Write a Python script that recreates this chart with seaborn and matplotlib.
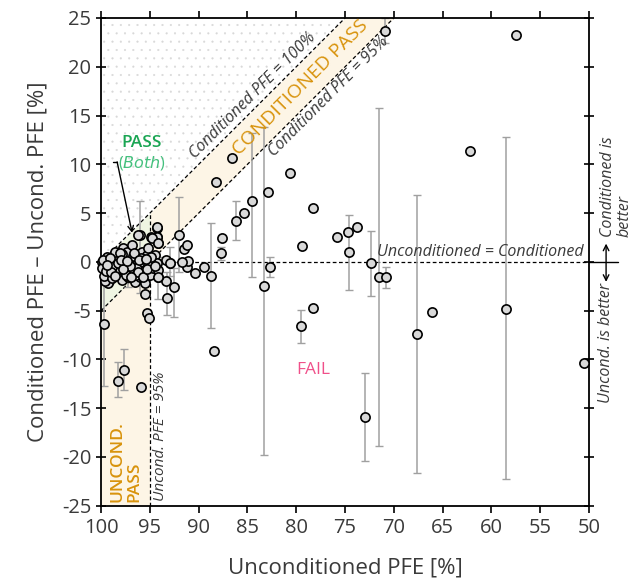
import numpy as np
import pandas as pd
import matplotlib
matplotlib.use("Agg")
import matplotlib.pyplot as plt
import seaborn as sns

# ---------------- data ----------------
# outlying / labelled points: unconditioned PFE [%], difference [%], error-bar low/high (nan = none)
uncond = [70.9, 57.5, 62.2, 86.6, 88.2, 80.6, 82.9, 84.5, 78.3, 86.2,
          85.4, 87.6, 87.7, 88.7, 92.0, 91.5, 91.2, 75.8, 74.7, 73.8,
          74.6, 72.3, 71.5, 70.8, 79.4, 58.5, 67.6, 66.1, 50.5, 73.0,
          78.3, 79.5, 88.4, 82.7, 83.3, 89.5, 90.4, 91.2, 91.1, 91.7,
          92.5, 93.2, 92.9, 93.3, 94.2, 94.3, 94.3, 94.2, 94.9, 96.0,
          95.5, 95.3, 95.1, 99.7, 97.7, 98.3, 95.9, 93.4, 99.2]
diff = [23.7, 23.3, 11.4, 10.6, 8.2, 9.1, 7.2, 6.2, 5.5, 4.2,
        5.0, 2.4, 0.9, -1.4, 2.8, 1.3, 1.7, 2.6, 3.1, 3.6,
        1.0, -0.1, -1.5, -1.5, 1.6, -4.8, -7.4, -5.1, -10.4, -15.9,
        -4.7, -6.6, -9.1, -0.5, -2.5, -0.5, -1.1, -0.5, 0.1, 0.0,
        -2.6, -3.7, -0.1, -2.0, -1.6, 3.5, 2.5, 1.9, 2.5, 2.8,
        -3.3, -5.2, -5.8, -6.4, -11.1, -12.2, -12.8, 0.2, -2.0]
err_lo = [22.4, np.nan, np.nan, np.nan, np.nan, np.nan, np.nan, -1.5, np.nan, 2.2,
          np.nan, np.nan, 0.2, -6.8, -1.0, np.nan, np.nan, np.nan, np.nan, np.nan,
          -2.9, -3.5, -18.9, -2.7, np.nan, -22.3, -21.6, np.nan, np.nan, -20.4,
          np.nan, -8.3, -9.4, -1.5, -19.8, np.nan, np.nan, np.nan, np.nan, np.nan,
          -5.6, -5.4, np.nan, np.nan, np.nan, np.nan, np.nan, np.nan, np.nan, 1.0,
          np.nan, np.nan, np.nan, -12.7, -13.1, -13.9, np.nan, np.nan, np.nan]
err_hi = [25.0, np.nan, np.nan, np.nan, np.nan, np.nan, np.nan, 13.2, np.nan, 6.2,
          np.nan, np.nan, 1.5, 4.0, 6.6, np.nan, np.nan, np.nan, np.nan, np.nan,
          4.8, 3.2, 15.8, -0.5, np.nan, 12.8, 6.9, np.nan, np.nan, -11.4,
          np.nan, -4.9, -8.8, 0.5, 13.8, np.nan, np.nan, np.nan, np.nan, np.nan,
          -0.6, -1.0, np.nan, np.nan, np.nan, np.nan, np.nan, np.nan, np.nan, 6.2,
          np.nan, np.nan, np.nan, -0.5, -8.9, -10.3, np.nan, np.nan, np.nan]

# dense cluster near 100 %
cluster_uncond = [99.93, 99.93, 99.42, 99.25, 99.08, 99.25, 98.74, 98.74, 98.39, 98.22,
                  98.05, 97.88, 97.71, 97.54, 97.37, 97.20, 97.03, 96.86, 96.69, 96.52,
                  96.35, 96.18, 96.00, 95.83, 95.66, 95.49, 95.49, 95.32, 95.15, 94.98,
                  94.81, 94.64, 94.47, 94.30, 94.13, 94.13, 94.30, 94.81, 94.13, 96.18,
                  94.30, 92.93, 99.60, 99.70, 99.85, 98.90, 98.56, 99.08, 97.37, 96.86,
                  97.90, 96.70, 95.90, 95.20, 98.40, 97.60, 96.40, 95.00, 98.90, 97.10,
                  99.50, 99.00, 98.60, 98.10, 97.50, 97.00, 96.60, 96.20, 95.70, 95.30,
                  94.90, 94.50, 98.30, 97.80, 96.90, 96.10, 95.40, 99.40, 98.00, 97.30]
cluster_diff = [0.03, -0.65, 0.55, -0.31, -1.33, -2.19, 0.03, -0.82, 0.55, -0.31,
                -1.16, -1.84, 1.40, 0.38, -0.65, -1.50, 0.89, 0.03, -0.99, -2.02,
                0.55, -0.48, -1.50, 1.06, 0.03, -0.82, -2.19, 0.72, -0.31, -1.33,
                0.21, -0.65, 0.72, -0.14, -0.82, -1.50, 2.60, 2.40, 1.90, 2.77,
                3.60, -0.14, -2.00, -1.40, 0.20, -1.70, 1.06, 0.38, 1.06, 1.74,
                0.80, 0.60, 0.40, 1.40, -0.80, -1.00, -1.30, 0.10, -0.50, -0.20,
                -0.90, -1.00, -1.40, 0.90, -1.30, -0.40, 0.90, -1.00, -1.60, -0.70,
                0.50, -0.40, -0.10, -0.70, -1.60, 0.20, 0.30, -0.30, 0.20, 0.10]
cluster_err_lo = [np.nan] * 10 + [-2.0, np.nan, np.nan, np.nan, np.nan, -2.6, np.nan, -0.8, np.nan, np.nan,
                  np.nan, np.nan, -3.2, np.nan, np.nan, np.nan, -3.6, np.nan, np.nan, np.nan,
                  np.nan, np.nan, np.nan, np.nan, np.nan, -3.8, np.nan, np.nan, np.nan, np.nan,
                  np.nan, -1.4] + [np.nan] * 38
cluster_err_hi = [np.nan] * 10 + [1.5, np.nan, np.nan, np.nan, np.nan, -0.4, np.nan, 1.9, np.nan, np.nan,
                  np.nan, np.nan, 0.2, np.nan, np.nan, np.nan, -1.0, np.nan, np.nan, np.nan,
                  np.nan, np.nan, np.nan, np.nan, np.nan, 0.5, np.nan, np.nan, np.nan, np.nan,
                  np.nan, 1.5] + [np.nan] * 38

x_ticks = [100, 95, 90, 85, 80, 75, 70, 65, 60, 55, 50]
y_ticks = [-25, -20, -15, -10, -5, 0, 5, 10, 15, 20, 25]
pass_threshold = 95
perfect = 100

df = pd.DataFrame({
    "uncond": uncond + cluster_uncond,
    "diff": diff + cluster_diff,
    "lo": err_lo + cluster_err_lo,
    "hi": err_hi + cluster_err_hi,
})

# ---------------- style ----------------
sns.set_style("ticks")
plt.rcParams["font.family"] = ["Open Sans", "DejaVu Sans"]
plt.rcParams["hatch.linewidth"] = 0.3
TXT = "#3a3a3a"
ORANGE = "#d8930c"
CREAM = "#fdf5e6"
GREEN_FILL = "#eff5e2"

fig = plt.figure(figsize=(6.32, 5.8), dpi=100)
ax = fig.add_axes([0.160, 0.128, 0.772, 0.841])
ax.set_xlim(100, 50)
ax.set_ylim(-25, 25)

# ---------------- regions ----------------
xs = np.linspace(50, 100, 501)
# impossible region (conditioned PFE > 100 %)
ax.fill_between(xs, perfect - xs, 30, where=(xs >= 74), facecolor="none",
                edgecolor="#d8d8d8", hatch="..", linewidth=0, zorder=0)
# conditioned pass band
xb = xs[xs <= pass_threshold]
ax.fill_between(xb, pass_threshold - xb, perfect - xb, color=CREAM, linewidth=0, zorder=0)
xu = xs[xs >= pass_threshold]
# both pass
ax.fill_between(xu, pass_threshold - xu, perfect - xu, color=GREEN_FILL, linewidth=0, zorder=0)
# unconditioned pass
ax.fill_between(xu, -30, pass_threshold - xu, color=CREAM, linewidth=0, zorder=0)

dash = dict(color="black", linewidth=0.9, linestyle=(0, (3, 2)), zorder=1)
ax.plot([100, 70], [perfect - 100, perfect - 70], **dash)
ax.plot([100, 65], [pass_threshold - 100, pass_threshold - 65], **dash)
ax.plot([100, 50], [0, 0], **dash)
ax.plot([pass_threshold, pass_threshold], [-25, perfect - pass_threshold], **dash)

# ---------------- data marks ----------------
eb = df.dropna(subset=["lo", "hi"])
ax.errorbar(eb["uncond"], eb["diff"],
            yerr=[eb["diff"] - eb["lo"], eb["hi"] - eb["diff"]],
            fmt="none", ecolor="#a0a0a0", elinewidth=1.1, capsize=3, capthick=1.0, zorder=2)
sns.scatterplot(data=df, x="uncond", y="diff", ax=ax, s=44, color="#d9d9d9",
                edgecolor="black", linewidth=1.2, zorder=3, legend=False, clip_on=False)

# ---------------- annotations ----------------
ax.text(83.85, 16.45, "Conditioned PFE = 100%", rotation=45, rotation_mode="anchor",
        ha="center", va="bottom", fontsize=11.5, style="italic", color=TXT)
ax.text(79.6, 17.9, "CONDITIONED PASS", rotation=45, rotation_mode="anchor",
        ha="center", va="center", fontsize=14, color=ORANGE)
ax.text(77.3, 17.5, "Conditioned PFE = 95%", rotation=45, rotation_mode="anchor",
        ha="center", va="top", fontsize=11.5, style="italic", color=TXT)

ax.text(95.8, 12.2, "PASS", ha="center", va="center", fontsize=12.5,
        fontweight="semibold", color="#1aa553")
ax.text(95.8, 10.1, r"($\it{Both}$)", ha="center", va="center", fontsize=11.5,
        color="#44c07d")
ax.plot([98.77, 98.36], [10.25, 10.25], color="black", linewidth=1.0, zorder=4)
ax.annotate("", xy=(96.82, 2.97), xytext=(98.36, 10.25),
            arrowprops=dict(arrowstyle="->", color="black", lw=1.0,
                            shrinkA=0, shrinkB=0), zorder=4)

ax.text(50.6, 0.2, "Unconditioned = Conditioned", ha="right", va="bottom",
        fontsize=11.5, style="italic", color=TXT)
ax.text(97.45, -24.6, "UNCOND.\nPASS", rotation=90, ha="center", va="bottom",
        multialignment="left", fontsize=12.5, fontweight="semibold", color=ORANGE,
        linespacing=1.05)
ax.text(93.9, -24.5, "Uncond. PFE = 95%", rotation=90, ha="center", va="bottom",
        fontsize=11, style="italic", color=TXT)
ax.text(78.3, -11.1, "FAIL", ha="center", va="center", fontsize=12.5, color="#f0508a")

# right-side notes
fig.text(0.975, 0.592, "Conditioned is\nbetter", rotation=90, ha="center", va="bottom",
         multialignment="left", fontsize=11.5, style="italic", color=TXT, linespacing=1.0)
fig.text(0.959, 0.512, "Uncond. is better", rotation=90, ha="center", va="top",
         fontsize=11.5, style="italic", color=TXT)
fig.add_artist(plt.Line2D([0.932, 0.978], [0.548, 0.548], color="black", linewidth=1.0,
                          transform=fig.transFigure))
ax.annotate("", xy=(0.959, 0.580), xytext=(0.959, 0.514), xycoords="figure fraction",
            textcoords="figure fraction",
            arrowprops=dict(arrowstyle="<->", color="black", lw=1.0, shrinkA=0, shrinkB=0))

# ---------------- axes ----------------
ax.set_xticks(x_ticks)
ax.set_yticks(y_ticks)
ax.set_xticklabels([str(t) for t in x_ticks])
ax.set_yticklabels([str(t) for t in y_ticks])
ax.tick_params(axis="both", labelsize=14.5, labelcolor=TXT, color="black", width=1.2, length=5)
ax.tick_params(axis="y", direction="inout", length=7)
ax.tick_params(top=True, right=True, labeltop=False, labelright=False)
for s in ax.spines.values():
    s.set_color("black")
    s.set_linewidth(1.3)
ax.set_xlabel("Unconditioned PFE [%]", fontsize=16, color=TXT, labelpad=14)
ax.set_ylabel("Conditioned PFE \u2013 Uncond. PFE [%]", fontsize=16, color=TXT, labelpad=10)

fig.savefig("out.png", dpi=100)
